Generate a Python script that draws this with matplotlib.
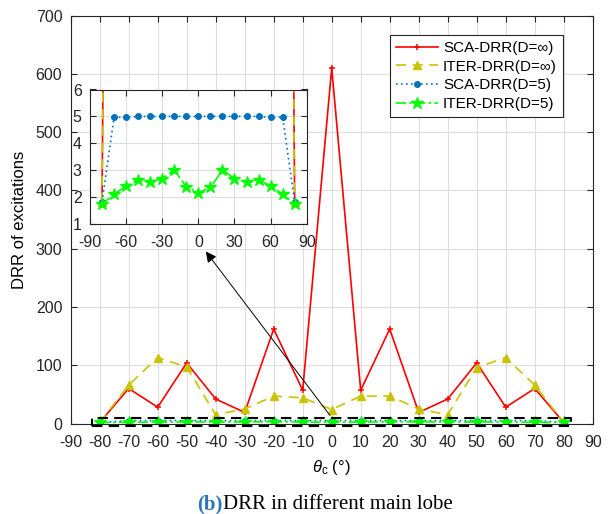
import matplotlib.pyplot as plt
import numpy as np

plt.rcParams['font.family'] = ['Liberation Sans', 'DejaVu Sans']
plt.rcParams['mathtext.fontset'] = 'custom'
plt.rcParams['mathtext.it'] = 'Liberation Sans:italic'
plt.rcParams['mathtext.rm'] = 'Liberation Sans'
plt.rcParams['axes.unicode_minus'] = False

theta = np.arange(-80, 81, 10)

sca_inf = [1.8, 60, 28, 104, 42, 19, 162, 57, 610, 57, 162, 19, 42, 104, 28, 60, 1.8]
iter_inf = [1.8, 66, 113, 97, 15, 25, 47, 44, 24, 47, 47, 25, 15, 96, 113, 66, 1.8]
sca_d5 = [1.83, 4.97, 4.96, 5.0, 5.0, 5.0, 5.0, 5.0, 5.0, 5.0, 5.0, 5.0, 5.0, 5.0, 4.96, 4.97, 1.83]
iter_d5 = [1.74, 2.11, 2.41, 2.64, 2.57, 2.69, 3.0, 2.39, 2.17, 2.36, 3.0, 2.69, 2.57, 2.64, 2.42, 2.11, 1.74]

labels = ['SCA-DRR(D=\u221e)', 'ITER-DRR(D=\u221e)', 'SCA-DRR(D=5)', 'ITER-DRR(D=5)']

RED = '#ff0000'
OLIVE = '#c8c400'
BLUE = '#0072bd'
GREEN = '#00ff00'
SPINE = '#262626'


def draw_series(ax):
    ax.plot(theta, sca_inf, color=RED, lw=1.2, marker='+', ms=5, mew=1.1, label=labels[0])
    ax.plot(theta, iter_inf, color=OLIVE, lw=1.2, ls=(0, (6, 4)), marker='^', ms=6,
            mfc=OLIVE, mec=OLIVE, label=labels[1])
    ax.plot(theta, sca_d5, color=BLUE, lw=1.2, ls=(0, (1, 2)), marker='o', ms=4,
            mfc=BLUE, mec=BLUE, label=labels[2])
    ax.plot(theta, iter_d5, color=GREEN, lw=1.2, ls=(0, (6, 2, 1.5, 2)), marker='*', ms=9,
            mfc=GREEN, mec=GREEN, label=labels[3])


def style_axes(ax):
    ax.grid(True, color='#dedede', lw=0.8)
    ax.set_axisbelow(True)
    for s in ax.spines.values():
        s.set_color(SPINE)
        s.set_linewidth(0.8)
    ax.tick_params(direction='in', length=4, width=0.8, colors=SPINE, labelsize=11.5,
                   top=True, right=True, labelcolor='#262626')
    ax.tick_params(axis='x', pad=8)
    ax.tick_params(axis='y', pad=6)


fig = plt.figure(figsize=(6.13, 5.14), dpi=100)
ax = fig.add_axes([70.7 / 613, 1 - 423.5 / 514, 522 / 613, 408 / 514])
draw_series(ax)
style_axes(ax)
ax.set_xlim(-90, 90)
ax.set_ylim(0, 700)
ax.set_xticks(np.arange(-90, 91, 10))
ax.set_yticks(np.arange(0, 701, 100))
ax.set_xlabel(r'$\theta_{\rm c}$ (°)', fontsize=12, labelpad=6)
ax.set_ylabel('DRR of excitations', fontsize=12, labelpad=6)

# zoom box around the D=5 curves
ax.plot([-82.5, 82.5, 82.5, -82.5, -82.5], [-5, -5, 10, 10, -5], color='k', lw=1.5,
        ls=(0, (5, 3)), clip_on=False, zorder=6)
ax.annotate('', xy=(-44, 299), xytext=(0, 10),
            arrowprops=dict(arrowstyle='-|>', color='k', lw=0.7, mutation_scale=16))

leg = ax.legend(loc='upper right', bbox_to_anchor=(563 / 613, 1 - 35 / 514),
                bbox_transform=fig.transFigure, borderaxespad=0, fontsize=11,
                handlelength=2.8, labelspacing=0.3, fancybox=False, framealpha=1,
                edgecolor=SPINE, borderpad=0.4, handletextpad=0.3)
leg.get_frame().set_linewidth(0.8)

# inset
axin = fig.add_axes([90 / 613, 1 - 224 / 514, 216.7 / 613, 134.5 / 514])
draw_series(axin)
style_axes(axin)
axin.set_xlim(-90, 90)
axin.set_ylim(1, 6)
axin.set_xticks(np.arange(-90, 91, 30))
axin.set_yticks(np.arange(1, 7, 1))

# caption
fig.text(223 / 613, 1 - 509 / 514, '(b)', ha='right', va='baseline', fontsize=15,
         fontweight='bold', color='#2e75b6', family='Liberation Serif')
fig.text(223 / 613, 1 - 509 / 514, 'DRR in different main lobe', ha='left', va='baseline',
         fontsize=15, color='k', family='Liberation Serif')

fig.savefig('out.png', dpi=100)
